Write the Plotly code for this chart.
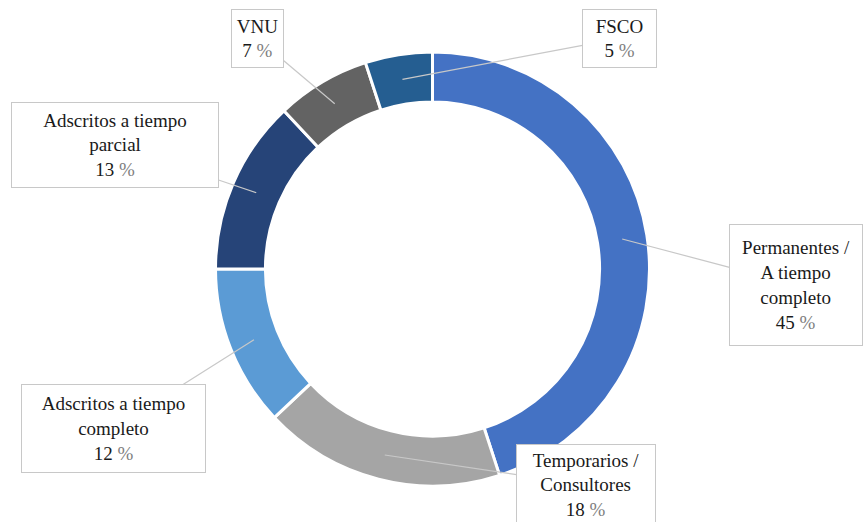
import math
import plotly.graph_objects as go

labels = ["Permanentes / A tiempo completo", "Temporarios / Consultores",
          "Adscritos a tiempo completo", "Adscritos a tiempo parcial", "VNU", "FSCO"]
box_text = ["Permanentes /<br>A tiempo<br>completo", "Temporarios /<br>Consultores",
            "Adscritos a tiempo<br>completo", "Adscritos a tiempo<br>parcial", "VNU", "FSCO"]
values = [45, 18, 12, 13, 7, 5]
colors = ["#4472C4", "#A5A5A5", "#5B9BD5", "#264478", "#636363", "#255E91"]

W, H = 866, 522
cx, cy = 432.5, 269.0       # pixel centre of donut
R_OUT = 217.0
HOLE = 0.77

# label box centres (pixels) and sizes
box_center = [(796, 285), (586, 485), (113.5, 428.5), (115, 145), (257.5, 38.5), (619.5, 38.5)]
box_size = [(132, 120), (138, 80), (183, 87), (206, 84), (51, 57), (73, 57)]

FONT = "Times New Roman, Liberation Serif, DejaVu Serif, serif"

fig = go.Figure(go.Pie(
    labels=labels, values=values, sort=False, direction="clockwise", rotation=0,
    hole=HOLE, textinfo="none", hoverinfo="label+percent",
    marker=dict(colors=colors, line=dict(color="white", width=3)),
    domain=dict(x=[(cx - R_OUT) / W, (cx + R_OUT) / W],
                y=[(H - cy - R_OUT) / H, (H - cy + R_OUT) / H]),
    showlegend=False,
))

total = sum(values)
cum = 0
r_mid = R_OUT * (1 + HOLE) / 2
annotations = []
for i, v in enumerate(values):
    mid = (cum + v / 2) / total * 2 * math.pi
    cum += v
    tx = cx + r_mid * math.sin(mid)
    ty = cy - r_mid * math.cos(mid)
    bx, by = box_center[i]
    bw, bh = box_size[i]
    pct = round(v / total * 100)
    txt = f"{box_text[i]}<br>{pct} <span style='color:#808080'>%</span>"
    annotations.append(dict(
        x=tx / W, y=1 - ty / H, xref="paper", yref="paper",
        ax=bx - tx, ay=by - ty, axref="pixel", ayref="pixel",
        showarrow=True, arrowhead=0, arrowwidth=1.2, arrowcolor="#c8c8c8",
        standoff=0, startstandoff=0,
        text=txt, align="center",
        font=dict(family=FONT, size=19, color="#1a1a1a"),
        bgcolor="white", bordercolor="#c8c8c8", borderwidth=1, borderpad=0,
        width=bw, height=bh,
    ))

fig.update_layout(
    width=W, height=H, margin=dict(l=0, r=0, t=0, b=0),
    paper_bgcolor="white", plot_bgcolor="white",
    font=dict(family=FONT),
    annotations=annotations,
)
fig.write_html("out.html")
